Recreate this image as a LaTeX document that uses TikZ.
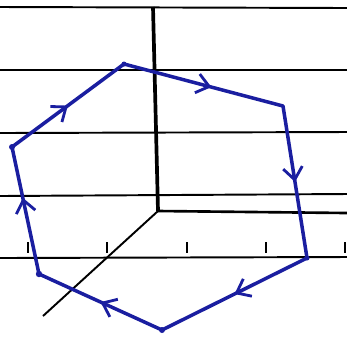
\documentclass[tikz,border=0pt]{standalone}
\usetikzlibrary{arrows.meta,decorations.markings}
\definecolor{pen}{RGB}{26,30,160}
\tikzset{
  rule/.style={line width=1.1pt,black},
  axisline/.style={line width=2.1pt,black},
  tickmark/.style={line width=1pt,black},
  hexedge/.style={line width=2pt,pen,line join=round,line cap=round,
    postaction={decorate},
    decoration={markings,mark=at position #1 with {\arrow{Straight Barb[length=7pt,width=11pt,line width=1.6pt]}}}},
  hexedge/.default=0.55
}
\begin{document}
\begin{tikzpicture}[x=0.02cm,y=-0.02cm]
\useasboundingbox (0,0) rectangle (347,336);
% ruled lines
\draw[rule] (0,7) -- (347,8);
\draw[rule] (0,70) -- (347,70);
\draw[rule] (0,133) -- (347,132);
\draw[rule] (0,196) -- (347,194);
\draw[rule] (0,258) -- (347,257);
% axes
\coordinate (O) at (158,211);
\coordinate (Ztop) at (153,7);
\coordinate (Xend) at (347,213);
\coordinate (Yend) at (43,316);
\draw[axisline] (Ztop) -- (O);
\draw[axisline,line width=1.5pt] (O) -- (Xend);
\draw[axisline,line width=1.1pt] (O) -- (Yend);
% ticks
\foreach \x in {28,107,187,266,345}{
  \draw[tickmark] (\x,242) -- (\x,253);
}
% hexagon vertices
\coordinate (A) at (124,64);
\coordinate (B) at (283,106);
\coordinate (C) at (307,258);
\coordinate (D) at (162,330);
\coordinate (E) at (39,274);
\coordinate (F) at (12,147);
\draw[hexedge=0.5] (F) -- (A);
\draw[hexedge=0.55] (A) -- (B);
\draw[hexedge=0.5] (B) -- (C);
\draw[hexedge=0.5] (C) -- (D);
\draw[hexedge=0.5] (D) -- (E);
\draw[hexedge=0.6] (E) -- (F);
\fill[pen] (F) circle (3) (E) circle (3.2) (A) circle (2.5) (D) circle (3) (C) circle (2.5);
\end{tikzpicture}
\end{document}
